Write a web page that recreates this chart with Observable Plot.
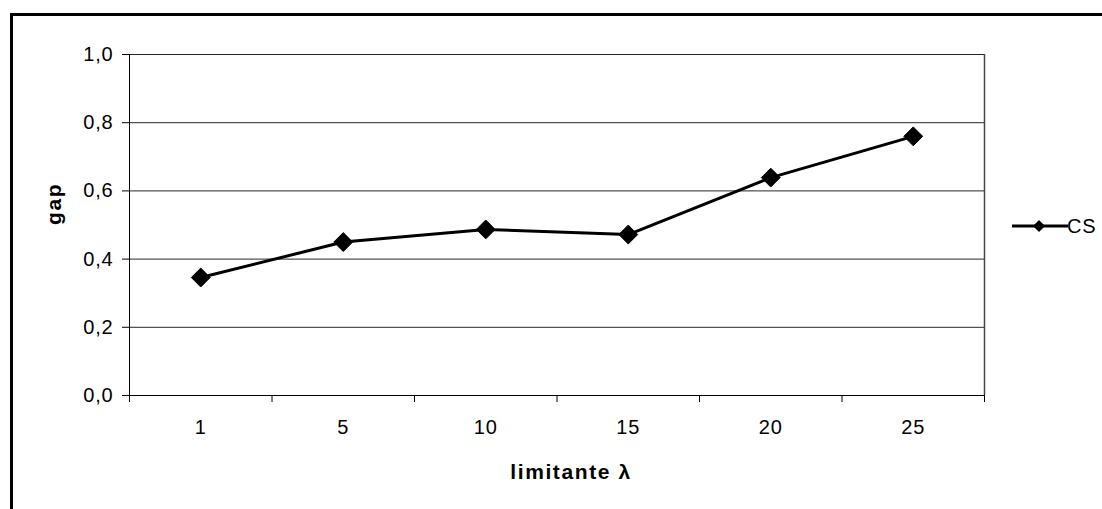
<!DOCTYPE html>
<html>
<head>
<meta charset="utf-8">
<script src="https://cdn.jsdelivr.net/npm/d3@7"></script>
<script src="https://cdn.jsdelivr.net/npm/@observablehq/plot@0.6"></script>
<style>
  html, body { margin: 0; padding: 0; background: #fff; }
  #wrap { position: relative; width: 1102px; height: 509px; overflow: hidden; font-family: "Liberation Sans", Arial, sans-serif; }
  #border { position: absolute; left: 10px; top: 13px; width: 1200px; height: 600px; border-top: 3px solid #000; border-left: 3px solid #000; }
  #chart { position: absolute; left: 0; top: 0; }
  #legend { position: absolute; left: 1008px; top: 212px; }
  .ticklab text { letter-spacing: 0.8px; }
  .titlelab text { letter-spacing: 1.6px; }
</style>
</head>
<body>
<div id="wrap">
  <div id="border"></div>
  <div id="chart"></div>
  <svg id="legend" width="94" height="30">
    <line x1="4" y1="14" x2="60" y2="14" stroke="#000" stroke-width="3"></line>
    <path d="M31,8 L37,14 L31,20 L25,14 Z" fill="#000"></path>
    <text x="59" y="21" font-family="Liberation Sans, Arial, sans-serif" font-size="20px" letter-spacing="0.8px" fill="#000">CS</text>
  </svg>
</div>
<script>
const categories = ["1", "5", "10", "15", "20", "25"];
const gapValues = [0.346, 0.45, 0.487, 0.472, 0.639, 0.76];
const yTicks = [0, 0.2, 0.4, 0.6, 0.8, 1.0];
const seriesName = "CS";

const data = categories.map((c, i) => ({ pos: i + 0.5, cat: c, gap: gapValues[i] }));
const boundaries = d3.range(categories.length + 1);
const centers = categories.map((c, i) => i + 0.5);

const chart = Plot.plot({
  width: 1102,
  height: 509,
  marginLeft: 129,
  marginRight: 118,
  marginTop: 54,
  marginBottom: 114,
  style: { fontFamily: "Liberation Sans, Arial, sans-serif", fontSize: "20px", color: "#000", background: "transparent" },
  x: { type: "linear", domain: [0, categories.length], axis: null },
  y: { domain: [0, 1], axis: null },
  marks: [
    Plot.gridY(yTicks.filter(d => d > 0), { stroke: "#000", strokeOpacity: 0.85, strokeWidth: 1 }),
    Plot.ruleX([categories.length], { stroke: "#444", strokeWidth: 1.5 }),
    Plot.ruleX([0], { stroke: "#000", strokeWidth: 1 }),
    Plot.ruleY([0], { stroke: "#000", strokeWidth: 1 }),
    Plot.axisY({ ticks: yTicks, tickSize: 7, tickPadding: 9, tickFormat: d => d.toFixed(1).replace(".", ","), fontSize: 20, className: "ticklab", label: null }),
    Plot.axisX({ ticks: boundaries, tickSize: 7, tickFormat: () => "", label: null }),
    Plot.axisX({ ticks: centers, tickSize: 0, tickPadding: 24, tickFormat: d => categories[Math.round(d - 0.5)], fontSize: 20, className: "ticklab", label: null }),
    Plot.text(["gap"], { frameAnchor: "left", dx: -75, rotate: -90, fontWeight: "bold", fontSize: 21, className: "titlelab" }),
    Plot.text(["limitante λ"], { frameAnchor: "bottom", dx: 14, dy: 77, fontWeight: "bold", fontSize: 21, lineAnchor: "middle", className: "titlelab" }),
    Plot.line(data, { x: "pos", y: "gap", stroke: "#000", strokeWidth: 3 }),
    Plot.dot(data, { x: "pos", y: "gap", symbol: "diamond2", r: 8.5, fill: "#000", stroke: "#000", strokeWidth: 1 })
  ]
});
document.getElementById("chart").appendChild(chart);
</script>
</body>
</html>
